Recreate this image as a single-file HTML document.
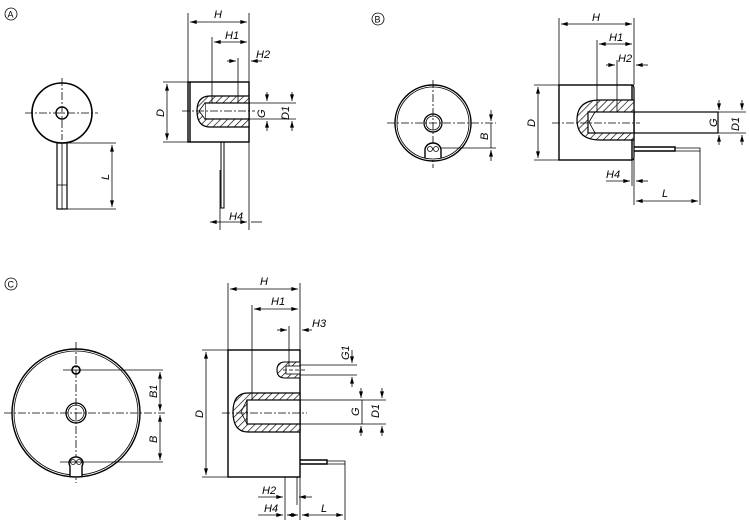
<!DOCTYPE html>
<html><head><meta charset="utf-8"><style>
html,body{margin:0;padding:0;background:#fff;}
svg{display:block}
text{font-family:"Liberation Sans",sans-serif;font-style:italic;font-size:11px;fill:#000}
text.n{font-style:normal;font-size:9px}
</style></head><body>
<svg width="750" height="523" viewBox="0 0 750 523" xmlns="http://www.w3.org/2000/svg">
<defs>
<pattern id="h" width="5" height="5" patternUnits="userSpaceOnUse" patternTransform="rotate(45)">
<rect width="5" height="5" fill="#fff"/><line x1="0" y1="0" x2="0" y2="5" stroke="#000" stroke-width="1.3"/></pattern>
<marker id="a" viewBox="0 0 10 6" refX="10" refY="3" markerWidth="10" markerHeight="4" markerUnits="userSpaceOnUse" orient="auto-start-reverse"><path d="M0,0L10,3L0,6z" fill="#000"/></marker>
</defs>
<g stroke="#000" fill="none" stroke-width="0.8">
<circle cx="11" cy="14" r="6"/><circle cx="378" cy="19" r="6"/><circle cx="11" cy="284" r="6"/>

<!-- A front -->
<circle cx="62" cy="113" r="30" stroke-width="1.6"/>
<circle cx="62" cy="113" r="6" stroke-width="1.4"/>
<line x1="25" y1="113" x2="98" y2="113" stroke-dasharray="8,2,2,2"/>
<line x1="62" y1="78" x2="62" y2="140" stroke-dasharray="8,2,2,2"/>
<rect x="57" y="143" width="10" height="66" stroke-width="1.2"/>
<line x1="62" y1="143" x2="62" y2="209"/><line x1="57" y1="185" x2="67" y2="185"/>
<line x1="67" y1="143" x2="116" y2="143"/><line x1="67" y1="209" x2="116" y2="209"/>
<line x1="112" y1="145" x2="112" y2="207" marker-start="url(#a)" marker-end="url(#a)"/>

<!-- A side -->
<rect x="188" y="82" width="61" height="60" stroke-width="1.4"/>
<line x1="190" y1="82" x2="190" y2="142" stroke-width="1.4"/>
<path d="M249,96 H210 Q197,96 197,111 Q197,127 210,127 H249 Z" fill="url(#h)" stroke-width="1.2"/>
<rect x="205" y="103" width="44" height="16" fill="#fff" stroke-width="1.2"/>
<path d="M205,103 L199,111 L205,119" fill="#fff"/>
<line x1="182" y1="111" x2="255" y2="111" stroke-dasharray="8,2,2,2"/>
<line x1="188" y1="13" x2="188" y2="82"/><line x1="249" y1="13" x2="249" y2="230"/>
<line x1="190" y1="22" x2="247" y2="22" marker-start="url(#a)" marker-end="url(#a)"/>
<line x1="212" y1="37" x2="212" y2="103"/>
<line x1="214" y1="42" x2="247" y2="42" marker-start="url(#a)" marker-end="url(#a)"/>
<line x1="238" y1="58" x2="238" y2="103"/>
<line x1="227" y1="61" x2="236" y2="61" marker-end="url(#a)"/>
<line x1="262" y1="61" x2="251" y2="61" marker-end="url(#a)"/>
<line x1="163" y1="82" x2="188" y2="82"/><line x1="163" y1="142" x2="188" y2="142"/>
<line x1="167" y1="84" x2="167" y2="140" marker-start="url(#a)" marker-end="url(#a)"/>
<line x1="249" y1="103" x2="296" y2="103"/><line x1="249" y1="119" x2="296" y2="119"/>
<line x1="267" y1="92" x2="267" y2="101" marker-end="url(#a)"/><line x1="267" y1="131" x2="267" y2="121" marker-end="url(#a)"/>
<line x1="292" y1="92" x2="292" y2="101" marker-end="url(#a)"/><line x1="292" y1="131" x2="292" y2="121" marker-end="url(#a)"/>
<rect x="221" y="142" width="3" height="66" stroke-width="1"/>
<line x1="220" y1="170" x2="220" y2="230"/>
<line x1="210" y1="222" x2="247" y2="222" marker-start="url(#a)" marker-end="url(#a)"/>
<line x1="251" y1="222" x2="262" y2="222"/>

<!-- B front -->
<circle cx="433" cy="123" r="38" stroke-width="1.4"/>
<circle cx="433" cy="123" r="36" stroke-width="0.8"/>
<circle cx="433" cy="123" r="9" stroke-width="1.3"/>
<circle cx="433" cy="123" r="7"/>
<line x1="387" y1="123" x2="496" y2="123" stroke-dasharray="8,2,2,2"/>
<line x1="433" y1="80" x2="433" y2="168" stroke-dasharray="8,2,2,2"/>
<path d="M425,158 V150 A8,7 0 1 1 441,150 V158" stroke-width="1.4" fill="#fff"/>
<circle cx="430" cy="149" r="2.5"/><circle cx="436" cy="149" r="2.5"/>
<line x1="441" y1="148" x2="496" y2="148"/>
<line x1="491" y1="110" x2="491" y2="121" marker-end="url(#a)"/><line x1="491" y1="161" x2="491" y2="150" marker-end="url(#a)"/>
<line x1="491" y1="123" x2="491" y2="148"/>

<!-- B side -->
<rect x="559" y="85" width="73" height="75" stroke-width="1.4"/>
<path d="M632,85 Q634,85 634,89 V156 Q634,160 632,160" stroke-width="1.2"/>
<path d="M634,100 H600 Q577,100 577,120 Q577,140 600,140 H634 Z" fill="url(#h)" stroke-width="1.2"/>
<rect x="588" y="112" width="46" height="21" fill="#fff" stroke-width="1.2"/>
<path d="M595,112 L589,122 L595,133"/>
<rect x="634" y="112" width="84" height="21" stroke-width="1.2" fill="none"/>
<line x1="552" y1="123" x2="640" y2="123" stroke-dasharray="8,2,2,2"/>
<path d="M634,147 H675 V151 H634" stroke-width="1.4"/><path d="M675,148 H700 V151 H675"/>
<line x1="559" y1="18" x2="559" y2="85"/><line x1="634" y1="18" x2="634" y2="85"/>
<line x1="561" y1="24" x2="632" y2="24" marker-start="url(#a)" marker-end="url(#a)"/>
<line x1="597" y1="40" x2="597" y2="112"/>
<line x1="599" y1="44" x2="632" y2="44" marker-start="url(#a)" marker-end="url(#a)"/>
<line x1="617" y1="60" x2="617" y2="112"/>
<line x1="606" y1="65" x2="615" y2="65" marker-end="url(#a)"/><line x1="648" y1="65" x2="636" y2="65" marker-end="url(#a)"/>
<line x1="534" y1="85" x2="559" y2="85"/><line x1="534" y1="160" x2="559" y2="160"/>
<line x1="538" y1="87" x2="538" y2="158" marker-start="url(#a)" marker-end="url(#a)"/>
<line x1="718" y1="112" x2="746" y2="112"/><line x1="718" y1="133" x2="746" y2="133"/>
<line x1="719" y1="100" x2="719" y2="110" marker-end="url(#a)"/><line x1="719" y1="145" x2="719" y2="135" marker-end="url(#a)"/>
<line x1="742" y1="100" x2="742" y2="110" marker-end="url(#a)"/><line x1="742" y1="145" x2="742" y2="135" marker-end="url(#a)"/>
<line x1="632" y1="160" x2="632" y2="186"/><line x1="634" y1="151" x2="634" y2="205"/><line x1="700" y1="151" x2="700" y2="205"/>
<line x1="606" y1="181" x2="630" y2="181" marker-end="url(#a)"/><line x1="648" y1="181" x2="636" y2="181" marker-end="url(#a)"/>
<line x1="636" y1="201" x2="698" y2="201" marker-start="url(#a)" marker-end="url(#a)"/>

<!-- C front -->
<circle cx="76" cy="413" r="64" stroke-width="1.4"/>
<circle cx="76" cy="413" r="62"/>
<circle cx="76" cy="413" r="10" stroke-width="1.3"/><circle cx="76" cy="413" r="8"/>
<circle cx="76" cy="370" r="4" stroke-width="1.6"/>
<line x1="4" y1="413" x2="165" y2="413" stroke-dasharray="8,2,2,2"/>
<line x1="76" y1="342" x2="76" y2="483" stroke-dasharray="8,2,2,2"/>
<path d="M70,476 V466 A7,6 0 1 1 82,466 V476" stroke-width="1.4" fill="#fff"/>
<circle cx="73" cy="462" r="2.5"/><circle cx="79" cy="462" r="2.5"/>
<line x1="63" y1="370" x2="163" y2="370"/><line x1="60" y1="462" x2="163" y2="462"/>
<line x1="160" y1="372" x2="160" y2="411" marker-start="url(#a)" marker-end="url(#a)"/>
<line x1="160" y1="415" x2="160" y2="460" marker-start="url(#a)" marker-end="url(#a)"/>

<!-- C side -->
<rect x="228" y="350" width="72" height="127" stroke-width="1.4"/>
<path d="M300,362 H285 Q277,362 277,370 Q277,378 285,378 H300 Z" fill="url(#h)" stroke-width="1.1"/>
<rect x="286" y="366" width="14" height="8" fill="#fff"/>
<line x1="300" y1="365" x2="357" y2="365"/><line x1="300" y1="375" x2="357" y2="375"/>
<line x1="283" y1="370" x2="307" y2="370" stroke-dasharray="4,2"/>
<path d="M300,393 H248 Q233,393 233,412 Q233,432 248,432 H300 Z" fill="url(#h)" stroke-width="1.2"/>
<rect x="247" y="400" width="53" height="24" fill="#fff" stroke-width="1.2"/>
<path d="M247,400 L241,412 L247,424"/>
<rect x="300" y="400" width="62" height="24"/>
<line x1="222" y1="413" x2="307" y2="413" stroke-dasharray="8,2,2,2"/>
<path d="M300,460 H327 V464 H300" stroke-width="1.4"/><path d="M327,461 H345 V464 H327"/>
<line x1="228" y1="283" x2="228" y2="350"/><line x1="300" y1="283" x2="300" y2="520"/>
<line x1="230" y1="289" x2="298" y2="289" marker-start="url(#a)" marker-end="url(#a)"/>
<line x1="252" y1="305" x2="252" y2="400"/>
<line x1="254" y1="309" x2="298" y2="309" marker-start="url(#a)" marker-end="url(#a)"/>
<line x1="289" y1="326" x2="289" y2="366"/>
<line x1="277" y1="330" x2="287" y2="330" marker-end="url(#a)"/><line x1="312" y1="330" x2="302" y2="330" marker-end="url(#a)"/>
<line x1="202" y1="350" x2="228" y2="350"/><line x1="202" y1="477" x2="228" y2="477"/>
<line x1="206" y1="352" x2="206" y2="475" marker-start="url(#a)" marker-end="url(#a)"/>
<line x1="352" y1="350" x2="352" y2="363" marker-end="url(#a)"/><line x1="352" y1="387" x2="352" y2="377" marker-end="url(#a)"/>
<line x1="362" y1="400" x2="386" y2="400"/><line x1="362" y1="424" x2="386" y2="424"/>
<line x1="361" y1="388" x2="361" y2="398" marker-end="url(#a)"/><line x1="361" y1="436" x2="361" y2="426" marker-end="url(#a)"/>
<line x1="382" y1="388" x2="382" y2="398" marker-end="url(#a)"/><line x1="382" y1="436" x2="382" y2="426" marker-end="url(#a)"/>
<line x1="285" y1="477" x2="285" y2="520"/><line x1="297" y1="477" x2="297" y2="505"/><line x1="345" y1="464" x2="345" y2="520"/>
<line x1="258" y1="497" x2="283" y2="497" marker-end="url(#a)"/><line x1="312" y1="497" x2="299" y2="497" marker-end="url(#a)"/>
<line x1="258" y1="515" x2="283" y2="515" marker-end="url(#a)"/>
<line x1="287" y1="515" x2="298" y2="515" marker-start="url(#a)" marker-end="url(#a)"/>
<line x1="302" y1="515" x2="343" y2="515" marker-start="url(#a)" marker-end="url(#a)"/>
</g>
<text class="n" x="7.5" y="17.5">A</text><text class="n" x="374.5" y="22.5">B</text><text class="n" x="7.5" y="287.5">C</text>
<text x="214" y="18">H</text><text x="225" y="39">H1</text><text x="256" y="58">H2</text><text x="229" y="220">H4</text>
<text transform="translate(164,117) rotate(-90)">D</text>
<text transform="translate(265,118) rotate(-90)">G</text>
<text transform="translate(289,120) rotate(-90)">D1</text>
<text transform="translate(109,180) rotate(-90)">L</text>
<text transform="translate(488,140) rotate(-90)">B</text>
<text x="592" y="21">H</text><text x="609" y="41">H1</text><text x="618" y="62">H2</text><text x="606" y="178">H4</text><text x="662" y="197">L</text>
<text transform="translate(535,127) rotate(-90)">D</text>
<text transform="translate(717,127) rotate(-90)">G</text>
<text transform="translate(739,131) rotate(-90)">D1</text>
<text transform="translate(157,398) rotate(-90)">B1</text>
<text transform="translate(157,443) rotate(-90)">B</text>
<text x="260" y="285">H</text><text x="271" y="305">H1</text><text x="312" y="327">H3</text>
<text x="262" y="494">H2</text><text x="264" y="512">H4</text><text x="321" y="512">L</text>
<text transform="translate(203,418) rotate(-90)">D</text>
<text transform="translate(349,360) rotate(-90)">G1</text>
<text transform="translate(359,416) rotate(-90)">G</text>
<text transform="translate(379,418) rotate(-90)">D1</text>
</svg>
</body></html>
